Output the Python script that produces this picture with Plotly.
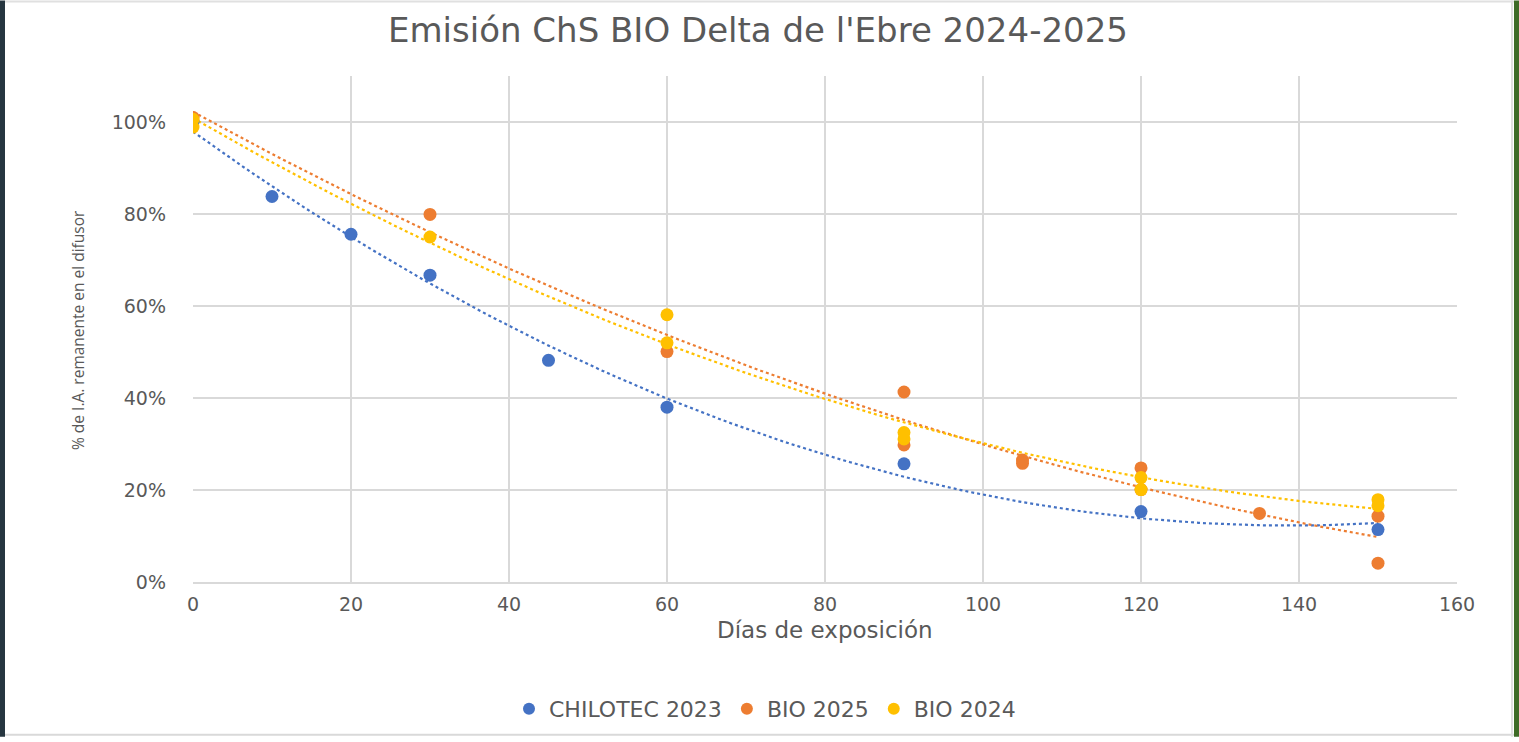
import numpy as np
import plotly.graph_objects as go

# ---- data ----
chil_x = [0, 10, 20, 30, 45, 60, 90, 120, 150]
chil_y = [1.00, 0.838, 0.756, 0.667, 0.482, 0.380, 0.257, 0.153, 0.114]

bio25_x = [0, 30, 60, 90, 90, 105, 105, 120, 120, 135, 150, 150]
bio25_y = [1.01, 0.799, 0.501, 0.413, 0.298, 0.265, 0.258, 0.248, 0.201, 0.149, 0.143, 0.041]

bio24_x = [0, 0, 30, 60, 60, 90, 90, 120, 120, 150, 150]
bio24_y = [1.006, 0.989, 0.750, 0.581, 0.520, 0.325, 0.311, 0.227, 0.201, 0.179, 0.166]

series = [
    ("CHILOTEC 2023", chil_x, chil_y, "#4472C4"),
    ("BIO 2025", bio25_x, bio25_y, "#ED7D31"),
    ("BIO 2024", bio24_x, bio24_y, "#FFC000"),
]

x_ticks = [0, 20, 40, 60, 80, 100, 120, 140, 160]
y_ticks = [0, 0.2, 0.4, 0.6, 0.8, 1.0]

FONT = "DejaVu Sans"
GREY = "#595959"

fig = go.Figure()

# polynomial (order 2) trendlines computed from the data
for name, xs, ys, col in series:
    coef = np.polyfit(xs, ys, 2)
    tx = np.linspace(min(xs), max(xs), 120)
    fig.add_trace(go.Scatter(x=tx, y=np.polyval(coef, tx), mode="lines",
                             line=dict(color=col, width=2.2, dash="dot"),
                             showlegend=False, hoverinfo="skip"))

for name, xs, ys, col in series:
    fig.add_trace(go.Scatter(x=xs, y=ys, mode="markers", name=name,
                             marker=dict(color=col, size=13, symbol="circle")))

W, H = 1519, 742
L, R, T, B = 193, 62, 76, 156
pw, ph = W - L - R, H - T - B

def px(xp):
    return (xp - L) / pw

def py(yp):
    return (H - B - yp) / ph

fig.update_layout(
    width=W, height=H,
    margin=dict(l=L, r=R, t=T, b=B),
    paper_bgcolor="white", plot_bgcolor="white",
    title=dict(text="Emisión ChS BIO Delta de l'Ebre 2024-2025",
               x=0.499, xanchor="center", y=1 - 30 / H, yanchor="middle",
               font=dict(family=FONT, size=34, color=GREY)),
    xaxis=dict(range=[0, 160], tickvals=x_ticks, showgrid=True,
               gridcolor="#D9D9D9", gridwidth=2, zeroline=False,
               showline=True, linecolor="#D9D9D9", linewidth=2,
               ticks="", ticklabelstandoff=4,
               tickfont=dict(family=FONT, size=19, color=GREY)),
    yaxis=dict(range=[0, 1.1], tickvals=y_ticks, tickformat=".0%",
               showgrid=True, gridcolor="#D9D9D9", gridwidth=1.5,
               zeroline=False, showline=False, ticks="", ticklabelstandoff=26,
               tickfont=dict(family=FONT, size=19, color=GREY)),
    legend=dict(orientation="h", x=0.5 + (765 - 825) / pw, xanchor="center", y=py(714),
                yanchor="middle", font=dict(family=FONT, size=22, color=GREY),
                itemsizing="constant", itemwidth=30),
    annotations=[
        dict(text="Días de exposición", xref="paper", yref="paper",
             x=px(825), y=py(634), xanchor="center", yanchor="middle",
             showarrow=False, font=dict(family=FONT, size=23, color=GREY)),
        dict(text="% de I.A. remanente en el difusor", xref="paper", yref="paper",
             x=px(78), y=py(332), xanchor="center", yanchor="middle", textangle=-90,
             showarrow=False, font=dict(family="Open Sans", size=15.5, color=GREY)),
    ],
    shapes=[
        dict(type="rect", xref="paper", yref="paper", x0=px(0), x1=px(5),
             y0=py(742), y1=py(0), fillcolor="#263640", line=dict(width=0), layer="above"),
        dict(type="rect", xref="paper", yref="paper", x0=px(1514), x1=px(1519),
             y0=py(742), y1=py(0), fillcolor="#3E6B27", line=dict(width=0), layer="above"),
        dict(type="line", xref="paper", yref="paper", x0=px(5), x1=px(1514),
             y0=py(1), y1=py(1), line=dict(color="#E0E0E0", width=2)),
        dict(type="line", xref="paper", yref="paper", x0=px(5), x1=px(1514),
             y0=py(740), y1=py(740), line=dict(color="#D9D9D9", width=2)),
        dict(type="line", xref="paper", yref="paper", x0=px(1512), x1=px(1512),
             y0=py(742), y1=py(0), line=dict(color="#E0E0E0", width=2)),
    ],
)

fig.write_html("out.html", config={"displayModeBar": False},
               post_script="document.body.style.margin='0';document.body.style.overflow='hidden';")
